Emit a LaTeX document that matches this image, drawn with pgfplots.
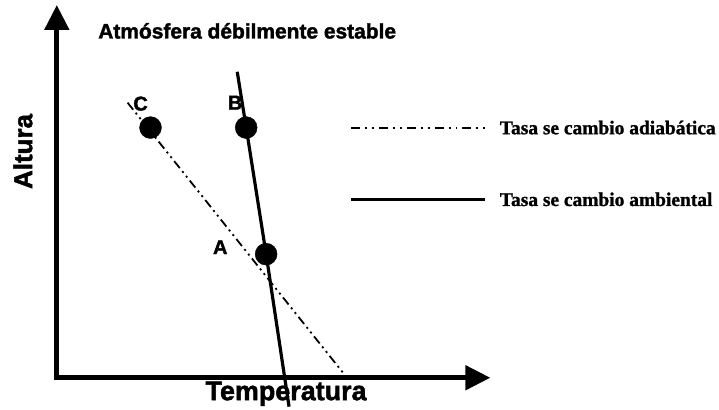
\documentclass[border=0pt]{standalone}
\usepackage{fontspec}
\setmainfont{Liberation Serif}[BoldFeatures={FakeBold=1.2}]
\setsansfont{Liberation Sans}[BoldFeatures={FakeBold=1.8}]
\usepackage{pgfplots}
\pgfplotsset{compat=1.18}
\usetikzlibrary{arrows.meta}
\begin{document}
\begin{tikzpicture}
\begin{axis}[
  scale only axis, width=719pt, height=410pt,
  xmin=0, xmax=719, ymin=0, ymax=410,
  hide axis, clip=false,
]
% frame to fix the bounding box
\addplot[draw=none] coordinates {(0,0) (719,410)};
% axes with arrows
\addplot[line width=5pt, line join=miter,
  {Triangle[length=25pt,width=24pt]}-{Triangle[length=25pt,width=24pt]}]
  coordinates {(57,405) (57,31) (492,31)};
% environmental lapse rate (solid)
\addplot[line width=3.2pt] coordinates {(238,338) (247,282) (267,155) (290,2)};
% adiabatic lapse rate (dash-dot-dot)
\addplot[line width=1.8pt, dash pattern=on 9pt off 4pt on 2pt off 4pt on 2pt off 4pt]
  coordinates {(128,307) (345,35)};
% points
\addplot[only marks, mark=*, mark size=11pt, black] coordinates {(151,282) (247,282) (267,155)};
% legend lines
\addplot[line width=2pt, dash pattern=on 9pt off 5pt on 2pt off 5pt on 2pt off 5pt]
  coordinates {(352,282) (488,282)};
\addplot[line width=3.5pt] coordinates {(352,210) (487,210)};
% texts
\node[font=\sffamily\bfseries\fontsize{21}{24}\selectfont] at (axis cs:248,379) {Atmósfera débilmente estable};
\node[font=\sffamily\bfseries\fontsize{27}{30}\selectfont] at (axis cs:287,15) {Temperatura};
\node[font=\sffamily\bfseries\fontsize{26}{30}\selectfont, rotate=90] at (axis cs:23,258) {Altura};
\node[font=\sffamily\bfseries\fontsize{20}{22}\selectfont] at (axis cs:221,162) {A};
\node[font=\sffamily\bfseries\fontsize{20}{22}\selectfont] at (axis cs:236,307) {B};
\node[font=\sffamily\bfseries\fontsize{20}{22}\selectfont] at (axis cs:141,306) {C};
\node[font=\bfseries\fontsize{19.5}{22}\selectfont, anchor=west] at (axis cs:498,282) {Tasa se cambio adiabática};
\node[font=\bfseries\fontsize{19.5}{22}\selectfont, anchor=west] at (axis cs:498,210) {Tasa se cambio ambiental};
\end{axis}
\end{tikzpicture}
\end{document}
